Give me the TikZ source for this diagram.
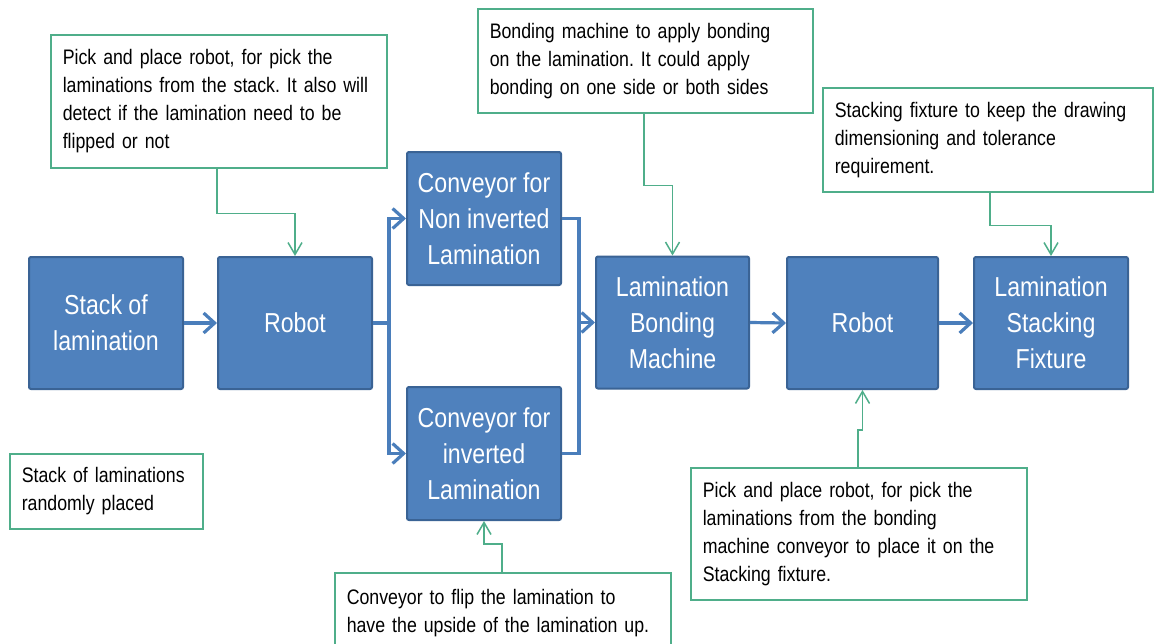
\documentclass[tikz,border=0pt]{standalone}
\usepackage{fontspec}
\setmainfont{Liberation Sans}[FakeStretch=0.845]
\usetikzlibrary{arrows.meta,calc}
\definecolor{boxblue}{HTML}{4F81BD}
\definecolor{boxborder}{HTML}{3A6395}
\definecolor{flowblue}{HTML}{4A7EBB}
\definecolor{callgreen}{HTML}{4FAE8A}
\frenchspacing
\tikzset{
  blk/.style={draw=boxborder, fill=boxblue, line width=1pt, rounded corners=1pt,
    text=white, font=\fontsize{13.7}{18}\selectfont, align=center,
    minimum width=77pt, minimum height=66pt, inner sep=0pt},
  callout/.style={draw=callgreen, line width=0.75pt, fill=white,
    font=\fontsize{10.5}{14}\selectfont\frenchspacing, align=left, anchor=north west,
    inner xsep=6pt, inner ysep=0pt},
  flow/.style={draw=flowblue, line width=1.6pt},
  flowarr/.style={flow, -{Straight Barb[length=5.5pt,width=10pt]}},
  callline/.style={draw=callgreen, line width=0.75pt, -{Straight Barb[length=6pt,width=7pt]}}
}
\begin{document}
\begin{tikzpicture}[x=0.5pt,y=-0.5pt]
\path[use as bounding box] (0,0) rectangle (1155,643);
\clip (0,0) rectangle (1155,643);
\fill[white] (0,0) rectangle (1155,643);

% main blocks
\node[blk] (stack)   at (106,323)   {Stack of\\lamination};
\node[blk] (robot1)  at (295,323)   {Robot};
\node[blk, minimum height=66.5pt] (convtop) at (484,218.5) {Conveyor for\\Non inverted\\Lamination};
\node[blk, minimum height=66.5pt] (convbot) at (484,453.5) {Conveyor for\\inverted\\Lamination};
\node[blk, minimum width=76.5pt] (bond) at (672.5,322.5) {Lamination\\Bonding\\Machine};
\node[blk, minimum width=75.5pt] (robot2) at (862.5,323) {Robot};
\node[blk] (fixture) at (1051,323)  {Lamination\\Stacking\\Fixture};

% callouts
\node[callout, text width=156pt, minimum height=66.5pt] (c1) at (50,34)
  {Pick and place robot, for pick the\\laminations from the stack. It also will\\detect if the lamination need to be\\flipped or not};
\node[callout, text width=155.5pt, minimum height=52pt] (c2) at (477,8)
  {Bonding machine to apply bonding\\on the lamination. It could apply\\bonding on one side or both sides};
\node[callout, text width=153pt, minimum height=52pt] (c3) at (822,87)
  {Stacking fixture to keep the drawing\\dimensioning and tolerance\\requirement.};
\node[callout, text width=84.5pt, minimum height=37.5pt] (c4) at (9,453)
  {Stack of laminations\\randomly placed};
\node[callout, text width=156pt, minimum height=40pt] (c5) at (334,572)
  {Conveyor to flip the lamination to\\have the upside of the lamination up.};
\node[callout, text width=156pt, minimum height=66pt] (c6) at (690,467)
  {Pick and place robot, for pick the\\laminations from the bonding\\machine conveyor to place it on the\\Stacking fixture.};

% flow connectors
\draw[flowarr] (stack.east) -- (robot1.west);
\path (robot1.east) ++(16,0) coordinate (split);
\draw[flow] (robot1.east) -- (split);
\draw[flowarr] (split) |- (convtop.west);
\draw[flowarr] (split) |- (convbot.west);
\path (convtop.east) ++(17,0) coordinate (m1);
\coordinate (merge) at (m1 |- bond.west);
\draw[flow] (convtop.east) -- (m1) |- (convbot.east);
\draw[flowarr] (merge) -- (bond.west);
\draw[flowarr] (bond.east) -- (robot2.west);
\draw[flowarr] (robot2.east) -- (fixture.west);

% callout connectors
\draw[callline] (c1.south west) ++(167,0) -- ++(0,45) -| (robot1.north);
\draw[callline] (c2.south west) ++(167,0) -- ++(0,72) -| (bond.north);
\draw[callline] (c3.south west) ++(168,0) -- ++(0,33) -| (fixture.north);
\draw[callline] (c5.north west) ++(168,0) -- ++(0,-28) -| (convbot.south);
\draw[callline] (c6.north west) ++(168,0) -- ++(0,-37) -| (robot2.south);
\end{tikzpicture}
\end{document}
